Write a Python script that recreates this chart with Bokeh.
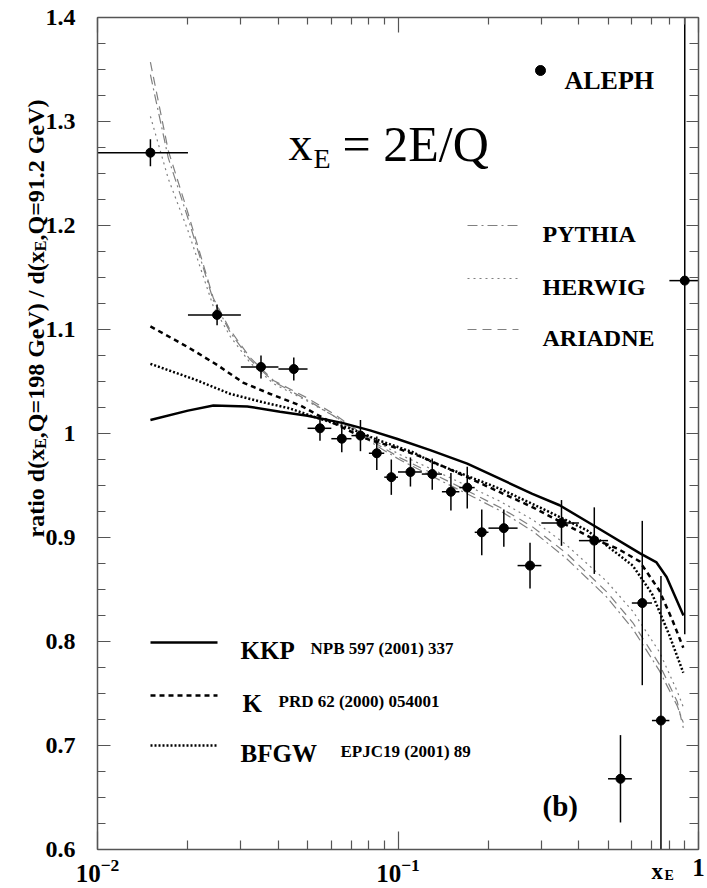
import numpy as np
from bokeh.plotting import figure
from bokeh.models import (Range1d, LogAxis, LinearAxis, SingleIntervalTicker, FixedTicker,
                          Label, CustomJSTickFormatter, LogTickFormatter)
from bokeh.embed import file_html
from bokeh.resources import INLINE

# ---------------- data ----------------
aleph_x = [0.015, 0.025, 0.035, 0.045, 0.055, 0.065, 0.075, 0.085, 0.095, 0.11, 0.13,
           0.15, 0.17, 0.19, 0.225, 0.275, 0.35, 0.45, 0.55, 0.65, 0.75, 0.9]
aleph_lo = [0.01, 0.02, 0.03, 0.04, 0.05, 0.06, 0.07, 0.08, 0.09, 0.10, 0.12,
            0.14, 0.16, 0.18, 0.20, 0.25, 0.30, 0.40, 0.50, 0.60, 0.70, 0.80]
aleph_hi = [0.02, 0.03, 0.04, 0.05, 0.06, 0.07, 0.08, 0.09, 0.10, 0.12, 0.14,
            0.16, 0.18, 0.20, 0.25, 0.30, 0.40, 0.50, 0.60, 0.70, 0.80, 1.0]
aleph_y = [1.270, 1.114, 1.064, 1.062, 1.005, 0.995, 0.998, 0.981, 0.958, 0.963, 0.961,
           0.944, 0.948, 0.905, 0.909, 0.873, 0.914, 0.897, 0.668, 0.837, 0.724, 1.147]
aleph_err = [0.013, 0.010, 0.011, 0.011, 0.012, 0.013, 0.015, 0.016, 0.017, 0.014, 0.015,
             0.018, 0.020, 0.022, 0.018, 0.022, 0.022, 0.032, 0.042, 0.079, 0.139, 0.34]

kkp_x = [0.015, 0.02, 0.0243, 0.0315, 0.0405, 0.05, 0.0657, 0.0807, 0.099, 0.128, 0.17,
         0.28, 0.345, 0.445, 0.637, 0.725, 0.783, 0.891]
kkp_y = [1.013, 1.022, 1.027, 1.026, 1.021, 1.017, 1.010, 1.003, 0.995, 0.984, 0.971,
         0.942, 0.931, 0.912, 0.885, 0.876, 0.862, 0.825]

k_x = [0.015, 0.02, 0.025, 0.0305, 0.0376, 0.0473, 0.0563, 0.0765, 0.099, 0.121, 0.17,
       0.281, 0.364, 0.445, 0.54, 0.637, 0.741, 0.82, 0.89]
k_y = [1.103, 1.083, 1.066, 1.049, 1.038, 1.027, 1.015, 0.996, 0.986, 0.977, 0.958,
       0.929, 0.912, 0.899, 0.889, 0.877, 0.849, 0.820, 0.794]

bfgw_x = [0.015, 0.0215, 0.0277, 0.0356, 0.0438, 0.0538, 0.0677, 0.0871, 0.112, 0.131,
          0.218, 0.296, 0.425, 0.604, 0.70, 0.80, 0.89]
bfgw_y = [1.067, 1.051, 1.038, 1.030, 1.024, 1.015, 1.006, 0.993, 0.982, 0.972,
          0.947, 0.929, 0.907, 0.873, 0.846, 0.806, 0.770]

mc_x = [0.015, 0.0172, 0.02, 0.0243, 0.0277, 0.0322, 0.0385, 0.05, 0.061, 0.085, 0.101,
        0.138, 0.178, 0.218, 0.281, 0.363, 0.494, 0.605, 0.741, 0.85, 0.89]
ariadne_y = [1.357, 1.272, 1.212, 1.130, 1.099, 1.073, 1.051, 1.034, 1.019, 0.990, 0.977,
             0.958, 0.942, 0.929, 0.910, 0.885, 0.848, 0.818, 0.778, 0.742, 0.717]
pythia_y = [1.345, 1.265, 1.207, 1.128, 1.097, 1.071, 1.050, 1.032, 1.017, 0.988, 0.975,
            0.955, 0.939, 0.926, 0.906, 0.880, 0.843, 0.812, 0.772, 0.738, 0.722]
herwig_y = [1.305, 1.245, 1.195, 1.122, 1.093, 1.068, 1.048, 1.031, 1.017, 0.992, 0.980,
            0.962, 0.947, 0.935, 0.917, 0.893, 0.858, 0.829, 0.790, 0.752, 0.737]

x_lim = (0.01, 1.0)
y_lim = (0.6, 1.4)
x_major = [0.01, 0.1, 1.0]
x_minor = [0.02, 0.03, 0.04, 0.05, 0.06, 0.07, 0.08, 0.09,
           0.2, 0.3, 0.4, 0.5, 0.6, 0.7, 0.8, 0.9]
y_ticks_interval = 0.1

# ---------------- layout ----------------
W, H = 707, 888
L, R, T, B = 97, 698, 17, 849          # pixel box of the plotting area
FONT = "Liberation Serif"
AX = "#555555"
MC = "#808080"
D_PY, D_HW, D_AR = "10 4 2 4", "2 4", "9 6"
EPS = 1e-6

DEC = (R - L) / 2.0                     # pixels per decade
YPX = (B - T) / (y_lim[1] - y_lim[0])   # pixels per unit y


def X(px):
    return 10 ** (np.log10(x_lim[0]) + (px - L) / DEC)


def Y(py):
    return y_lim[1] - (py - T) / YPX


xb = (x_lim[0] * (1 - EPS), x_lim[1] * (1 + EPS))
yb = (y_lim[0] - EPS, y_lim[1] + EPS)

# the frame covers the whole canvas; axes are placed at fixed locations
p = figure(width=W, height=H, x_axis_type="log",
           x_range=Range1d(X(0), X(W)), y_range=Range1d(Y(H), Y(0)),
           output_backend="svg", toolbar_location=None, min_border=0)
p.grid.visible = False
p.outline_line_color = None
p.background_fill_color = "white"
p.border_fill_color = "white"

blank = CustomJSTickFormatter(code="return '';")

xa = p.xaxis[0]
xa.fixed_location = y_lim[0]
xa.bounds = xb
xa.ticker = FixedTicker(ticks=x_major, minor_ticks=x_minor)
xa.formatter = LogTickFormatter()
xa.major_label_overrides = {1: "1"}
xa.major_label_text_font = FONT
xa.major_label_text_font_style = "bold"
xa.major_label_text_font_size = "25px"
xa.major_label_text_color = "black"
xa.major_label_standoff = 9
xa.major_tick_in, xa.major_tick_out = 18, 0
xa.minor_tick_in, xa.minor_tick_out = 9, 0

ya = p.yaxis[0]
ya.fixed_location = x_lim[0]
ya.bounds = yb
ya.ticker = SingleIntervalTicker(interval=y_ticks_interval, num_minor_ticks=4)
ya.formatter = CustomJSTickFormatter(code="var s = tick.toFixed(1); return s == '1.0' ? '1' : s;")
ya.major_label_text_font = FONT
ya.major_label_text_font_style = "bold"
ya.major_label_text_font_size = "24px"
ya.major_label_text_color = "black"
ya.major_label_standoff = 22
ya.major_tick_in, ya.major_tick_out = 13, 0
ya.minor_tick_in, ya.minor_tick_out = 8, 0

top = LogAxis(ticker=FixedTicker(ticks=x_major, minor_ticks=x_minor), formatter=blank,
              major_label_text_font_size="1px", fixed_location=y_lim[1], bounds=xb,
              major_tick_in=15, major_tick_out=0, minor_tick_in=7, minor_tick_out=0)
p.add_layout(top, "above")
right = LinearAxis(ticker=SingleIntervalTicker(interval=y_ticks_interval, num_minor_ticks=4),
                   formatter=blank, major_label_text_font_size="1px",
                   fixed_location=x_lim[1], bounds=yb,
                   major_tick_in=12, major_tick_out=0, minor_tick_in=9, minor_tick_out=0)
p.add_layout(right, "right")

for ax in [xa, ya, top, right]:
    ax.axis_line_color = AX
    ax.axis_line_width = 1.5
    ax.major_tick_line_color = AX
    ax.minor_tick_line_color = AX
    ax.major_tick_line_width = 1.2
    ax.minor_tick_line_width = 1.2

# ---------------- curves ----------------
p.line(mc_x, pythia_y, line_color=MC, line_width=1.2, line_dash=D_PY)
p.line(mc_x, herwig_y, line_color=MC, line_width=1.2, line_dash=D_HW)
p.line(mc_x, ariadne_y, line_color=MC, line_width=1.2, line_dash=D_AR)

p.line(kkp_x, kkp_y, line_color="black", line_width=2.5)
p.line(k_x, k_y, line_color="black", line_width=2.5, line_dash="5 4")
p.line(bfgw_x, bfgw_y, line_color="black", line_width=2.5, line_dash="2 2")

# ---------------- ALEPH data ----------------
ay_ = np.array(aleph_y)
ae_ = np.array(aleph_err)
y_dn = np.clip(ay_ - ae_, *y_lim)       # error bars are cut at the plot box
y_up = np.clip(ay_ + ae_, *y_lim)
p.segment(aleph_lo, aleph_y, aleph_hi, aleph_y, line_color="black", line_width=1.5)
p.segment(aleph_x, y_dn, aleph_x, y_up, line_color="black", line_width=1.5)
p.scatter(aleph_x, aleph_y, size=9, color="black")


# ---------------- legends / texts ----------------
def lab(px, py, text, size, style="bold", align="left", baseline="alphabetic", angle=0, font=FONT):
    p.add_layout(Label(x=X(px), y=Y(py), text=text, text_font=font, text_font_style=style,
                       text_font_size=f"{size}px", text_align=align, text_baseline=baseline,
                       text_color="black", angle=angle, angle_units="deg"))


# ALEPH marker
p.scatter([X(540)], [Y(70)], size=10, color="black")
lab(564, 80, "ALEPH", 26)

# formula
lab(288, 143, "x", 48, style="normal")
lab(313, 158, "E", 28, style="normal")
lab(342, 143, "= 2E/Q", 50, style="normal")

# MC legend
mc_items = [("PYTHIA", D_PY, 225), ("HERWIG", D_HW, 278), ("ARIADNE", D_AR, 329)]
for name, dash, yy in mc_items:
    p.line([X(467), X(518)], [Y(yy), Y(yy)], line_color=MC, line_width=1.2, line_dash=dash)
    lab(542, yy + 8, name, 24)

# theory legend
th_items = [("KKP", "solid", 642, 240, "NPB 597 (2001) 337", 310),
            ("K", "5 4", 695, 242, "PRD 62 (2000) 054001", 278),
            ("BFGW", "2 2", 745, 240, "EPJC19 (2001) 89", 340)]
for name, dash, yy, tx, ref, rx in th_items:
    p.line([X(150), X(217)], [Y(yy), Y(yy)], line_color="black", line_width=2.5, line_dash=dash)
    lab(tx, yy + 8, name, 25)
    lab(rx, yy + 6, ref, 17)

lab(542, 805, "(b)", 29)

# x-axis title next to the last tick label
lab(651, 871, "x", 23)
lab(664, 875, "E", 14)

# y-axis title (rotated, with subscripts)
TB = {' ': 250, '(': 333, ')': 333, ',': 250, '.': 250, '/': 278, '=': 570,
      'E': 667, 'G': 778, 'Q': 778, 'V': 722, 'a': 500, 'd': 556, 'e': 444,
      'i': 278, 'o': 500, 'r': 444, 't': 333, 'x': 500}


def tw(s, size):
    return sum(TB.get(c, 500) for c in s) * size / 1000.0


FY, FS = 24, 16
pieces = [("ratio d(x", False), ("E", True), (",Q=198 GeV) / d(x", False),
          ("E", True), (",Q=91.2 GeV)", False)]
pos = 537.0
for s, sub in pieces:
    size = FS if sub else FY
    lab(40 if sub else 35, pos, s, size, angle=90)
    pos -= tw(s, size)

open("out.html", "w").write(file_html(p, INLINE))
